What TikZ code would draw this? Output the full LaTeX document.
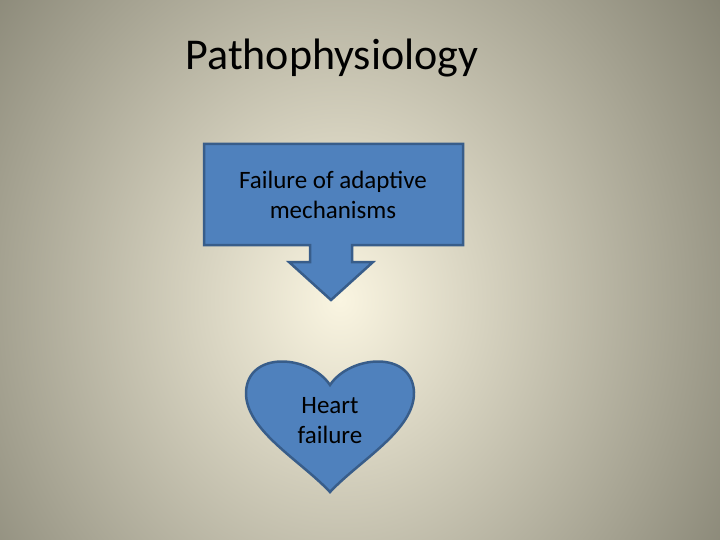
\documentclass[tikz,border=0pt]{standalone}
\usepackage{fontspec}
\setmainfont{Carlito}
\begin{document}
\begin{tikzpicture}[x=1pt,y=-1pt,
  shapefill/.style={fill={rgb,255:red,79;green,129;blue,189},draw={rgb,255:red,56;green,93;blue,138},line width=2.5pt},
  lbl/.style={font=\fontsize{25}{30}\selectfont,align=center,text=black}]
\useasboundingbox (0,0) rectangle (720,540);
\begin{scope}
\clip (0,0) rectangle (720,540);
\shade[inner color={rgb,255:red,250;green,245;blue,225},outer color={rgb,255:red,130;green,128;blue,112}] (-140,-240) rectangle (820,840);
\end{scope}
\node (title) at (332,58) {\fontsize{44}{52}\selectfont Pathophysiology};
\draw[shapefill] (204,144) -- (463,144) -- (463,245) -- (352,245) -- (352,262) -- (373,262) -- (331,300) -- (289,262) -- (310,262) -- (310,245) -- (204,245) -- cycle;
\node[lbl] (box) at (333,195) {Failure of adaptive\\mechanisms};
\draw[shapefill] (330,385) .. controls (350,355) and (412,350) .. (414,392) .. controls (415,430) and (360,460) .. (330,492) .. controls (300,460) and (245,430) .. (246,392) .. controls (248,350) and (310,355) .. (330,385) -- cycle;
\node[lbl] (heart) at (330,421) {Heart\\failure};
\end{tikzpicture}
\end{document}
